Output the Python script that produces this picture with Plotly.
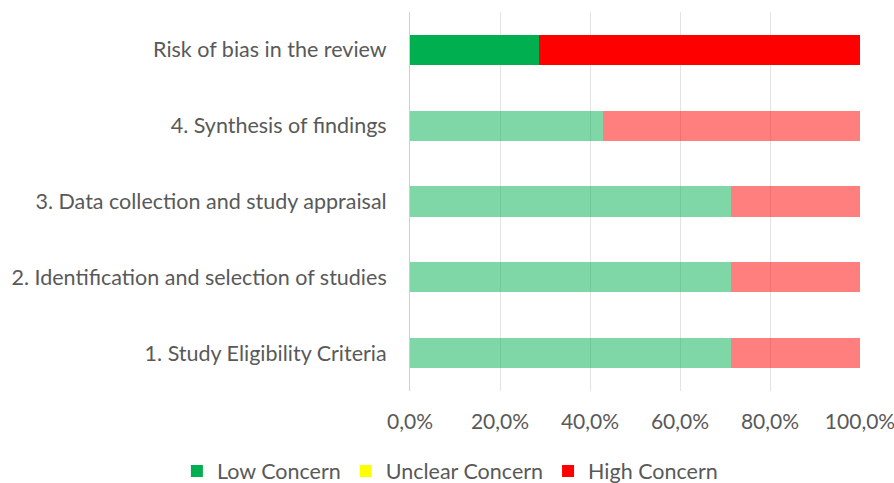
import plotly.graph_objects as go

categories = ["Risk of bias in the review", "4. Synthesis of findings",
              "3. Data collection and study appraisal",
              "2. Identification and selection of studies",
              "1. Study Eligibility Criteria"]
low = [0.286, 0.429, 0.714, 0.714, 0.714]
unclear = [0.0, 0.0, 0.0, 0.0, 0.0]
high = [0.714, 0.571, 0.286, 0.286, 0.286]

low_cols = ["#00B050"] + ["rgba(0,176,80,0.5)"] * 4
unc_cols = ["#FFFF00"] + ["rgba(255,255,0,0.5)"] * 4
high_cols = ["#FF0000"] + ["rgba(255,0,0,0.5)"] * 4

fig = go.Figure()
fig.add_trace(go.Bar(name="Low Concern", y=categories, x=low, orientation="h",
                     marker=dict(color=low_cols, line=dict(width=0))))
fig.add_trace(go.Bar(name="Unclear Concern", y=categories, x=unclear, orientation="h",
                     marker=dict(color=unc_cols, line=dict(width=0))))
fig.add_trace(go.Bar(name="High Concern", y=categories, x=high, orientation="h",
                     marker=dict(color=high_cols, line=dict(width=0))))

fig.update_layout(
    barmode="stack", bargap=0.6,
    width=894, height=483,
    margin=dict(l=410, r=34, t=12, b=92, autoexpand=False),
    paper_bgcolor="white", plot_bgcolor="white",
    separators=",.",
    font=dict(family="Lato", size=21.5, color="#595959"),
    legend=dict(orientation="h", x=-0.518, xanchor="left",
                y=-0.211, yanchor="middle",
                font=dict(size=21.5, color="#595959"), traceorder="normal",
                itemwidth=30, bgcolor="rgba(0,0,0,0)"),
    xaxis=dict(range=[0, 1], tickformat=".1%", dtick=0.2, showgrid=True,
               gridcolor="#E3E3E3", gridwidth=1, zeroline=False, showline=False,
               ticks="", ticklabelstandoff=16, automargin=False,
               ticklabeloverflow="allow", tickfont=dict(size=21)),
    yaxis=dict(autorange="reversed", showline=True, linecolor="#CFCFCF", linewidth=1,
               ticks="", ticklabelstandoff=18, showgrid=False, automargin=False),
)
fig.write_html("out.html", config={"displayModeBar": False},
               post_script="document.body.style.margin='0';document.body.style.overflow='hidden';")
